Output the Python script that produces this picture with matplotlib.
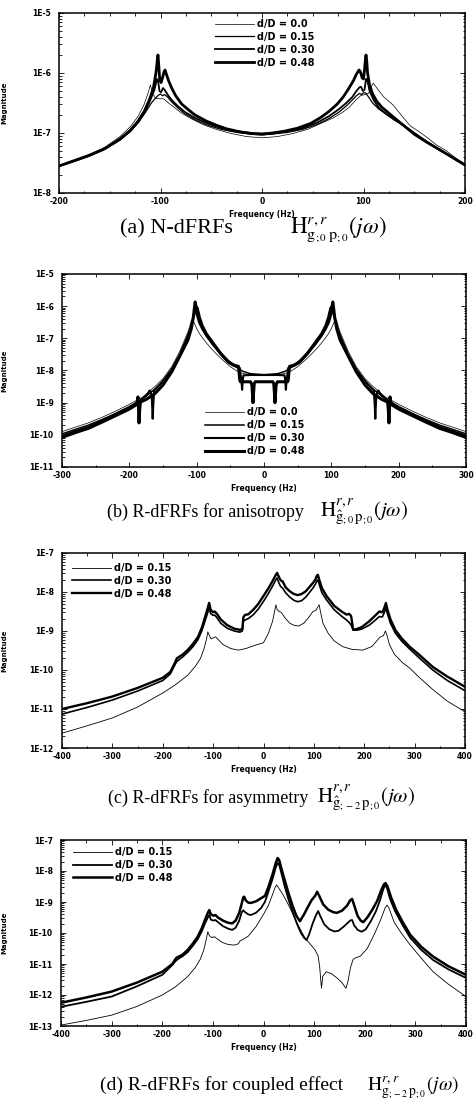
import numpy as np
import matplotlib.pyplot as plt
from matplotlib.ticker import FixedLocator, FuncFormatter, MultipleLocator, LogLocator, NullFormatter

plt.rcParams['font.family'] = 'DejaVu Sans'
plt.rcParams['mathtext.fontset'] = 'stix'
plt.rcParams['axes.unicode_minus'] = False

# ---- data: (frequency Hz, log10 magnitude) ----

# (a) N-dFRFs
a_d00 = [(-200, -7.55), (-185, -7.46), (-170, -7.36), (-155, -7.24), (-140, -7.06), (-130, -6.9),
         (-122, -6.72), (-116, -6.52), (-112, -6.32), (-110, -6.2), (-108, -6.32), (-105, -6.42),
         (-101, -6.43), (-97, -6.43), (-92, -6.5), (-86, -6.58), (-79, -6.67), (-70, -6.76),
         (-58, -6.86), (-45, -6.94), (-30, -7.01), (-15, -7.06), (0, -7.08), (15, -7.06),
         (30, -7.01), (45, -6.94), (58, -6.84), (70, -6.75), (79, -6.66), (86, -6.57), (92, -6.46),
         (97, -6.38), (101, -6.36), (105, -6.34), (108, -6.22), (109.5, -6.17), (111, -6.2),
         (114, -6.27), (120, -6.4), (129, -6.53), (138, -6.72), (146, -6.88), (155, -6.98),
         (163, -7.08), (172, -7.2), (182, -7.3), (191, -7.42), (200, -7.53)]
a_d15 = [(-200, -7.55), (-185, -7.47), (-170, -7.38), (-155, -7.27), (-140, -7.12), (-130, -6.98),
         (-122, -6.83), (-115, -6.66), (-109, -6.5), (-105, -6.42), (-102, -6.37), (-100, -6.35),
         (-98, -6.38), (-96, -6.36), (-93, -6.4), (-89, -6.48), (-83, -6.58), (-76, -6.68),
         (-66, -6.78), (-54, -6.87), (-40, -6.94), (-25, -6.99), (-10, -7.02), (0, -7.03),
         (10, -7.02), (25, -6.99), (40, -6.94), (54, -6.86), (66, -6.76), (76, -6.65), (83, -6.55),
         (89, -6.45), (93, -6.38), (96, -6.34), (98, -6.36), (100, -6.33), (102, -6.33),
         (105, -6.4), (109, -6.5), (115, -6.6), (122, -6.68), (130, -6.78), (140, -6.88),
         (150, -7.0), (162, -7.14), (172, -7.24), (182, -7.34), (191, -7.44), (200, -7.53)]
a_d30 = [(-200, -7.55), (-185, -7.47), (-170, -7.38), (-155, -7.27), (-140, -7.11), (-130, -6.97),
         (-122, -6.82), (-115, -6.63), (-110, -6.45), (-106, -6.28), (-103.5, -6.1), (-102.5, -6.12),
         (-101, -6.3), (-99.5, -6.32), (-97.5, -6.25), (-96, -6.28), (-93, -6.36), (-89, -6.45),
         (-83, -6.55), (-76, -6.65), (-66, -6.75), (-54, -6.84), (-40, -6.92), (-25, -6.97),
         (-10, -7.0), (0, -7.01), (10, -7.0), (25, -6.97), (40, -6.92), (54, -6.83), (66, -6.72),
         (76, -6.6), (83, -6.5), (89, -6.4), (93, -6.3), (96, -6.24), (97.5, -6.23), (99.5, -6.3),
         (101, -6.28), (102.5, -6.1), (103.5, -6.1), (106, -6.3), (110, -6.45), (115, -6.58),
         (122, -6.68), (130, -6.77), (140, -6.88), (150, -7.0), (162, -7.14), (172, -7.25),
         (182, -7.35), (191, -7.45), (200, -7.54)]
a_d48 = [(-200, -7.55), (-185, -7.46), (-170, -7.37), (-155, -7.26), (-140, -7.1), (-130, -6.96),
         (-122, -6.8), (-116, -6.64), (-111, -6.45), (-107, -6.25), (-104.5, -6.0), (-103.2, -5.8),
         (-102.5, -5.7), (-101.8, -5.85), (-100.8, -6.1), (-99.5, -6.16), (-98, -6.08),
         (-96.5, -5.98), (-95.5, -5.95), (-94, -6.03), (-92, -6.13), (-89, -6.25), (-85, -6.38),
         (-79, -6.52), (-72, -6.62), (-66, -6.7), (-55, -6.8), (-45, -6.87), (-35, -6.93),
         (-22, -6.98), (-10, -7.01), (0, -7.02), (10, -7.0), (22, -6.97), (35, -6.92), (48, -6.84),
         (58, -6.74), (66, -6.64), (74, -6.52), (80, -6.4), (85, -6.27), (90, -6.13), (93, -6.02),
         (95.6, -5.95), (97, -5.98), (98.6, -6.08), (100, -6.1), (101, -5.95), (102, -5.75),
         (102.5, -5.7), (103.2, -5.8), (104, -6.0), (106, -6.2), (109, -6.35), (113, -6.47),
         (118, -6.57), (125, -6.67), (132, -6.77), (140, -6.88), (150, -7.02), (162, -7.15),
         (172, -7.25), (182, -7.35), (191, -7.44), (200, -7.53)]

# (b) R-dFRFs for anisotropy
b_d00 = [(-300, -9.9), (-280, -9.76), (-261, -9.63), (-240, -9.45), (-220, -9.26), (-200, -9.05),
         (-180, -8.82), (-162, -8.5), (-150, -8.25), (-137, -7.88), (-125, -7.4), (-117, -7.0),
         (-113, -6.8), (-110, -6.6), (-108, -6.45), (-106, -6.4), (-104, -6.5), (-100, -6.7),
         (-95, -6.88), (-88, -7.08), (-80, -7.28), (-70, -7.5), (-60, -7.7), (-50, -7.88),
         (-40, -8.02), (-30, -8.1), (-15, -8.13), (0, -8.14), (15, -8.13), (30, -8.1), (40, -8.02),
         (50, -7.88), (60, -7.7), (70, -7.5), (80, -7.28), (88, -7.08), (95, -6.88), (100, -6.7),
         (104, -6.5), (106, -6.4), (108, -6.45), (110, -6.6), (113, -6.8), (117, -7.0), (125, -7.4),
         (137, -7.88), (150, -8.25), (162, -8.5), (180, -8.82), (200, -9.05), (220, -9.26),
         (240, -9.45), (261, -9.63), (280, -9.76), (300, -9.9)]
b_d15 = [(-300, -9.97), (-280, -9.83), (-261, -9.7), (-240, -9.52), (-220, -9.33), (-200, -9.12),
         (-180, -8.88), (-162, -8.58), (-150, -8.33), (-137, -7.95), (-125, -7.5), (-117, -7.1),
         (-112, -6.85), (-108, -6.6), (-105, -6.35), (-103, -6.22), (-101.5, -6.2), (-100, -6.28),
         (-97, -6.5), (-92, -6.72), (-85, -6.95), (-77, -7.18), (-68, -7.4), (-58, -7.6),
         (-48, -7.78), (-40, -7.9), (-32, -8.02), (-20, -8.1), (0, -8.13), (20, -8.1), (32, -8.02),
         (40, -7.9), (48, -7.78), (58, -7.6), (68, -7.4), (77, -7.18), (85, -6.95), (92, -6.72),
         (97, -6.5), (100, -6.28), (101.5, -6.2), (103, -6.22), (105, -6.35), (108, -6.6),
         (112, -6.85), (117, -7.1), (125, -7.5), (137, -7.95), (150, -8.33), (162, -8.58),
         (180, -8.88), (200, -9.12), (220, -9.33), (240, -9.52), (261, -9.7), (280, -9.83),
         (300, -9.97)]
b_d30 = [(-300, -10.03), (-280, -9.88), (-261, -9.75), (-240, -9.56), (-220, -9.36), (-200, -9.15),
         (-185, -8.95), (-175, -8.78), (-172, -8.7), (-170, -8.62), (-168, -8.66), (-166.5, -8.9),
         (-165.3, -9.5), (-164.3, -9.0), (-163, -8.62), (-155, -8.45), (-145, -8.2), (-137, -7.98),
         (-125, -7.52), (-115, -7.05), (-109, -6.7), (-105, -6.35), (-103, -6.15), (-101.8, -6.05),
         (-100.5, -6.15), (-99, -6.2), (-97, -6.4), (-92, -6.65), (-86, -6.9), (-77, -7.15),
         (-65, -7.48), (-53, -7.75), (-45, -7.85), (-40, -7.9), (-36, -7.92), (-35, -8.1),
         (-33.5, -8.3), (-32.5, -8.6), (-31.5, -8.3), (-30.5, -8.15), (-20, -8.14), (0, -8.14),
         (20, -8.14), (30.5, -8.15), (31.5, -8.3), (32.5, -8.6), (33.5, -8.3), (35, -8.1),
         (36, -7.92), (40, -7.9), (45, -7.85), (53, -7.75), (65, -7.48), (77, -7.15), (86, -6.9),
         (92, -6.65), (97, -6.4), (99, -6.2), (100.5, -6.15), (101.8, -6.05), (103, -6.15),
         (105, -6.35), (109, -6.7), (115, -7.05), (125, -7.52), (137, -7.98), (145, -8.2),
         (155, -8.45), (163, -8.62), (164.3, -9.0), (165.3, -9.5), (166.5, -8.9), (168, -8.66),
         (170, -8.62), (172, -8.7), (175, -8.78), (185, -8.95), (200, -9.15), (220, -9.36),
         (240, -9.56), (261, -9.75), (280, -9.88), (300, -10.03)]
b_d48 = [(-300, -10.08), (-280, -9.93), (-261, -9.8), (-240, -9.6), (-220, -9.4), (-200, -9.2),
         (-190, -9.07), (-188, -8.95), (-187.2, -8.82), (-186.5, -9.1), (-185.6, -9.63),
         (-184.6, -9.2), (-183.5, -8.98), (-175, -8.9), (-162, -8.72), (-150, -8.45), (-137, -8.04),
         (-125, -7.55), (-113, -7.05), (-108, -6.7), (-105, -6.35), (-103, -6.0), (-102.2, -5.87),
         (-101.5, -5.95), (-100.5, -6.1), (-99.5, -6.05), (-98.5, -6.12), (-96, -6.35),
         (-92, -6.6), (-86, -6.85), (-77, -7.11), (-65, -7.45), (-53, -7.73), (-45, -7.83),
         (-42, -7.85), (-38, -7.87), (-37, -8.05), (-36, -8.3), (-35, -8.35), (-20, -8.35),
         (-18, -8.45), (-17, -8.75), (-16.3, -9.0), (-15.5, -8.7), (-14.5, -8.4), (-13, -8.35),
         (0, -8.35), (13, -8.35), (14.5, -8.4), (15.5, -8.7), (16.3, -9.0), (17, -8.75),
         (18, -8.45), (20, -8.35), (35, -8.35), (36, -8.3), (37, -8.05), (38, -7.87), (42, -7.85),
         (45, -7.83), (53, -7.73), (65, -7.45), (77, -7.11), (86, -6.85), (92, -6.6), (96, -6.35),
         (98.5, -6.12), (99.5, -6.05), (100.5, -6.1), (101.5, -5.95), (102.2, -5.87), (103, -6.0),
         (105, -6.35), (108, -6.7), (113, -7.05), (125, -7.55), (137, -8.04), (150, -8.45),
         (162, -8.72), (175, -8.9), (183.5, -8.98), (184.6, -9.2), (185.6, -9.63), (186.5, -9.1),
         (187.2, -8.82), (188, -8.95), (190, -9.07), (200, -9.2), (220, -9.4), (240, -9.6),
         (261, -9.8), (280, -9.93), (300, -10.08)]

# (c) R-dFRFs for asymmetry
c_d15 = [(-400, -11.62), (-350, -11.43), (-300, -11.23), (-250, -10.95), (-200, -10.59),
         (-175, -10.38), (-150, -10.13), (-135, -9.9), (-125, -9.7), (-118, -9.45), (-113, -9.2),
         (-110.5, -9.02), (-108, -9.1), (-104, -9.2), (-99, -9.17), (-95, -9.15), (-90, -9.22),
         (-80, -9.35), (-65, -9.45), (-50, -9.49), (-35, -9.45), (-20, -9.38), (0, -9.3),
         (10, -9.05), (18, -8.75), (22, -8.5), (24.5, -8.33), (27, -8.45), (31, -8.5), (35, -8.52),
         (42, -8.65), (52, -8.8), (62, -8.86), (70, -8.87), (80, -8.8), (90, -8.65), (98, -8.5),
         (104, -8.47), (108, -8.38), (110.5, -8.33), (113, -8.5), (118, -8.8), (128, -9.05),
         (140, -9.25), (157, -9.4), (175, -9.47), (197, -9.49), (215, -9.4), (225, -9.25),
         (232, -9.15), (238, -9.12), (242, -9.0), (245, -9.1), (250, -9.35), (260, -9.6),
         (275, -9.8), (290, -9.95), (310, -10.2), (336, -10.5), (365, -10.8), (400, -11.07)]
c_d30 = [(-400, -11.13), (-350, -10.96), (-300, -10.77), (-250, -10.54), (-200, -10.27),
         (-185, -10.1), (-176, -9.87), (-172, -9.78), (-160, -9.66), (-150, -9.54), (-140, -9.4),
         (-130, -9.22), (-122, -8.98), (-115, -8.7), (-110, -8.5), (-108, -8.41), (-105, -8.55),
         (-100, -8.6), (-97, -8.59), (-93, -8.65), (-85, -8.8), (-72, -8.93), (-58, -9.0),
         (-47, -9.03), (-42, -9.0), (-40, -8.75), (-37, -8.72), (-30, -8.68), (-20, -8.58),
         (-10, -8.43), (0, -8.24), (10, -8.03), (18, -7.85), (24, -7.7), (27, -7.64), (30, -7.75),
         (34, -7.86), (38, -7.9), (44, -8.02), (52, -8.13), (60, -8.21), (68, -8.25), (76, -8.22),
         (84, -8.13), (92, -8.0), (98, -7.9), (103, -7.8), (106, -7.71), (108, -7.69),
         (111, -7.82), (116, -8.02), (125, -8.2), (140, -8.45), (155, -8.62), (165, -8.72),
         (170, -8.78), (174, -8.85), (178, -8.97), (185, -8.98), (195, -8.95), (210, -8.85),
         (222, -8.72), (230, -8.63), (236, -8.64), (240, -8.52), (243, -8.41), (246, -8.56),
         (252, -8.8), (262, -9.06), (275, -9.27), (290, -9.46), (310, -9.7), (336, -10.0),
         (365, -10.27), (400, -10.53)]
c_d48 = [(-400, -11.0), (-350, -10.85), (-300, -10.68), (-250, -10.46), (-200, -10.2),
         (-185, -10.05), (-176, -9.82), (-172, -9.7), (-160, -9.6), (-150, -9.48), (-140, -9.33),
         (-130, -9.15), (-122, -8.9), (-115, -8.6), (-110, -8.38), (-108, -8.28), (-105, -8.45),
         (-100, -8.52), (-97, -8.5), (-93, -8.55), (-85, -8.7), (-72, -8.85), (-58, -8.94),
         (-47, -8.97), (-42, -8.95), (-40, -8.65), (-37, -8.59), (-30, -8.57), (-20, -8.45),
         (-10, -8.3), (0, -8.1), (10, -7.9), (18, -7.72), (24, -7.57), (27, -7.51), (30, -7.6),
         (34, -7.7), (38, -7.73), (44, -7.88), (52, -7.98), (60, -8.05), (68, -8.08), (76, -8.05),
         (84, -7.98), (92, -7.86), (98, -7.77), (103, -7.68), (106, -7.58), (108, -7.56),
         (111, -7.7), (116, -7.9), (125, -8.1), (140, -8.35), (155, -8.5), (165, -8.58),
         (170, -8.56), (174, -8.62), (178, -8.97), (185, -8.95), (195, -8.9), (210, -8.75),
         (222, -8.6), (230, -8.5), (236, -8.52), (240, -8.4), (243, -8.28), (246, -8.45),
         (252, -8.7), (262, -8.98), (275, -9.2), (290, -9.4), (310, -9.62), (336, -9.92),
         (365, -10.17), (400, -10.43)]

# (d) R-dFRFs for coupled effect
d_d15 = [(-400, -12.97), (-350, -12.82), (-300, -12.65), (-250, -12.37), (-200, -12.0),
         (-175, -11.75), (-150, -11.41), (-135, -11.12), (-125, -10.85), (-118, -10.55),
         (-113, -10.2), (-110, -9.96), (-107, -10.08), (-102, -10.15), (-97, -10.12), (-92, -10.18),
         (-82, -10.3), (-70, -10.37), (-58, -10.39), (-50, -10.35), (-46, -10.25), (-42, -10.22),
         (-30, -10.1), (-15, -9.8), (0, -9.4), (10, -9.1), (18, -8.75), (23, -8.53), (26, -8.45),
         (30, -8.55), (38, -8.75), (48, -9.05), (59, -9.42), (70, -9.8), (82, -10.16),
         (92, -10.35), (102, -10.55), (108, -10.75), (111, -11.1), (113, -11.5), (114.5, -11.78),
         (117, -11.4), (124, -11.25), (135, -11.32), (145, -11.45), (155, -11.6), (160, -11.72),
         (163, -11.78), (167, -11.55), (172, -11.1), (177, -10.85), (182, -10.8), (191, -10.75),
         (205, -10.5), (220, -10.0), (232, -9.55), (240, -9.2), (244, -9.1), (248, -9.2),
         (258, -9.65), (272, -10.0), (290, -10.39), (312, -10.82), (335, -11.25), (365, -11.65),
         (400, -12.05)]
d_d30 = [(-400, -12.38), (-350, -12.22), (-300, -12.05), (-250, -11.72), (-200, -11.35),
         (-180, -11.03), (-175, -10.93), (-170, -10.85), (-160, -10.75), (-150, -10.62),
         (-140, -10.42), (-130, -10.2), (-122, -9.95), (-115, -9.67), (-110, -9.5), (-107, -9.42),
         (-104, -9.57), (-99, -9.6), (-95, -9.58), (-90, -9.65), (-80, -9.78), (-70, -9.86),
         (-62, -9.9), (-55, -9.83), (-48, -9.6), (-43, -9.33), (-40, -9.27), (-37, -9.32),
         (-30, -9.4), (-25, -9.42), (-15, -9.35), (-5, -9.2), (3, -8.99), (10, -8.65), (18, -8.25),
         (24, -7.9), (28, -7.74), (31, -7.8), (35, -8.05), (42, -8.5), (50, -8.95), (58, -9.35),
         (66, -9.7), (74, -10.0), (80, -10.15), (85, -10.23), (90, -10.05), (97, -9.7),
         (103, -9.45), (108, -9.29), (112, -9.45), (120, -9.72), (130, -9.88), (140, -9.95),
         (148, -9.93), (158, -9.8), (166, -9.68), (171, -9.6), (175, -9.58), (179, -9.75),
         (186, -9.9), (194, -9.96), (202, -9.88), (212, -9.62), (222, -9.3), (230, -8.95),
         (236, -8.62), (240, -8.45), (244, -8.55), (250, -8.9), (260, -9.3), (275, -9.75),
         (290, -10.16), (312, -10.55), (335, -10.87), (365, -11.17), (400, -11.45)]
d_d48 = [(-400, -12.25), (-350, -12.08), (-300, -11.89), (-250, -11.6), (-200, -11.25),
         (-180, -11.0), (-175, -10.87), (-172, -10.8), (-160, -10.7), (-150, -10.55),
         (-140, -10.35), (-130, -10.12), (-122, -9.85), (-115, -9.55), (-110, -9.35),
         (-107, -9.26), (-104, -9.4), (-99, -9.44), (-95, -9.42), (-90, -9.5), (-80, -9.6),
         (-70, -9.67), (-62, -9.69), (-55, -9.6), (-48, -9.35), (-43, -9.05), (-40, -8.85),
         (-38, -8.83), (-35, -8.95), (-30, -9.02), (-25, -9.03), (-15, -8.98), (-5, -8.88),
         (3, -8.8), (10, -8.5), (18, -8.1), (24, -7.75), (28, -7.58), (31, -7.65), (35, -7.9),
         (42, -8.3), (50, -8.75), (58, -9.15), (65, -9.45), (72, -9.62), (80, -9.4), (88, -9.15),
         (95, -8.94), (102, -8.8), (106, -8.67), (110, -8.8), (118, -9.08), (128, -9.25),
         (138, -9.33), (145, -9.35), (155, -9.28), (165, -9.12), (171, -8.95), (175, -8.9),
         (179, -9.1), (186, -9.45), (192, -9.6), (197, -9.65), (205, -9.5), (215, -9.25),
         (225, -8.95), (233, -8.6), (238, -8.43), (241, -8.39), (245, -8.5), (252, -8.85),
         (262, -9.25), (275, -9.65), (290, -10.06), (312, -10.45), (335, -10.76), (365, -11.07),
         (400, -11.35)]

labels = ['d/D = 0.0', 'd/D = 0.15', 'd/D = 0.30', 'd/D = 0.48']
captions = ['(a) N-dFRFs', '(b) R-dFRFs for anisotropy',
            '(c) R-dFRFs for asymmetry', '(d) R-dFRFs for coupled effect']
cap_math = [r'$\mathrm{H}^{r,r}_{\mathrm{g}_{;0}\,\mathrm{p}_{;0}}(j\omega)$',
            r'$\mathrm{H}^{r,r}_{\hat{\mathrm{g}}_{;0}\,\mathrm{p}_{;0}}(j\omega)$',
            r'$\mathrm{H}^{r,r}_{\hat{\mathrm{g}}_{;-2}\,\mathrm{p}_{;0}}(j\omega)$',
            r'$\mathrm{H}^{r,r}_{\mathrm{g}_{;-2}\,\mathrm{p}_{;0}}(j\omega)$']

W, H = 475, 1101
fig = plt.figure(figsize=(W / 100, H / 100), dpi=100)
all_axes = []


def make_axes(l, t, r, b):
    ax = fig.add_axes([l / W, 1 - b / H, (r - l) / W, (b - t) / H])
    ax.yaxis.set_label_coords(-(l - 7) / (r - l), 0.5)
    all_axes.append(ax)
    return ax


def curve(ax, pts, lw, label):
    f = [p[0] for p in pts]
    m = [10.0 ** p[1] for p in pts]
    ax.plot(f, m, color='black', lw=lw, label=label, solid_joinstyle='round')


def style(ax, xmax, xstep, xminor, ylo, yhi):
    ax.set_xlim(-xmax, xmax)
    ax.set_yscale('log')
    ax.set_ylim(10.0 ** ylo, 10.0 ** yhi)
    ax.xaxis.set_major_locator(MultipleLocator(xstep))
    ax.xaxis.set_minor_locator(MultipleLocator(xminor))
    ax.yaxis.set_major_locator(FixedLocator([10.0 ** e for e in range(ylo, yhi + 1)]))
    ax.yaxis.set_major_formatter(FuncFormatter(lambda v, p: '1E%d' % round(np.log10(v))))
    ax.yaxis.set_minor_locator(LogLocator(base=10, subs=np.arange(2, 10), numticks=30))
    ax.yaxis.set_minor_formatter(NullFormatter())
    ax.tick_params(which='both', direction='in', top=True, right=True, width=0.6, labelsize=5.5)
    ax.tick_params(which='major', length=3.5)
    ax.tick_params(which='minor', length=1.8)
    ax.tick_params(axis='y', pad=6)
    ax.tick_params(axis='x', pad=3)
    ax.set_xlabel('Frequency (Hz)', fontsize=5.5, fontweight='bold', labelpad=3)
    ax.set_ylabel('Magnitude', fontsize=5, fontweight='bold')
    for s in ax.spines.values():
        s.set_linewidth(1.1)


def legend(ax, loc, anchor):
    ax.legend(loc=loc, bbox_to_anchor=anchor, frameon=False, prop={'size': 7, 'weight': 'bold'},
              handlelength=4.0, handletextpad=0.3, labelspacing=0.3, borderpad=0, borderaxespad=0)


def caption(i, x_text, x_math, y_base, size, msize):
    fig.text(x_text / W, 1 - y_base / H, captions[i], family='Liberation Serif',
             fontsize=size, va='baseline', ha='left')
    fig.text(x_math / W, 1 - y_base / H, cap_math[i], fontsize=msize,
             va='baseline', ha='left')


# (a)
ax = make_axes(59, 13, 465, 193)
curve(ax, a_d00, 0.5, labels[0])
curve(ax, a_d15, 0.9, labels[1])
curve(ax, a_d30, 1.3, labels[2])
curve(ax, a_d48, 2.0, labels[3])
style(ax, 200, 100, 25, -8, -5)
legend(ax, 'upper left', (0.384, 0.967))
caption(0, 120, 290, 233, 16, 16.5)

# (b)
ax = make_axes(62, 274, 466, 467)
curve(ax, b_d00, 0.5, labels[0])
curve(ax, b_d15, 1.1, labels[1])
curve(ax, b_d30, 1.5, labels[2])
curve(ax, b_d48, 2.2, labels[3])
style(ax, 300, 100, 50, -11, -5)
legend(ax, 'lower left', (0.354, 0.057))
caption(1, 107, 320, 517, 13, 15)

# (c)
ax = make_axes(62, 553, 465, 748)
curve(ax, c_d15, 0.6, labels[1])
curve(ax, c_d30, 1.2, labels[2])
curve(ax, c_d48, 1.7, labels[3])
style(ax, 400, 100, 50, -12, -7)
legend(ax, 'upper left', (0.025, 0.949))
caption(2, 108, 317, 803, 13, 15)

# (d)
ax = make_axes(61, 840, 466, 1026)
curve(ax, d_d15, 0.6, labels[1])
curve(ax, d_d30, 1.3, labels[2])
curve(ax, d_d48, 1.8, labels[3])
style(ax, 400, 100, 50, -13, -7)
legend(ax, 'upper left', (0.03, 0.962))
caption(3, 100, 367, 1090, 14, 14)

# bold tick labels
fig.canvas.draw()
for ax in all_axes:
    for lab in ax.get_xticklabels() + ax.get_yticklabels():
        lab.set_fontweight('bold')

fig.savefig('out.png', dpi=100)
